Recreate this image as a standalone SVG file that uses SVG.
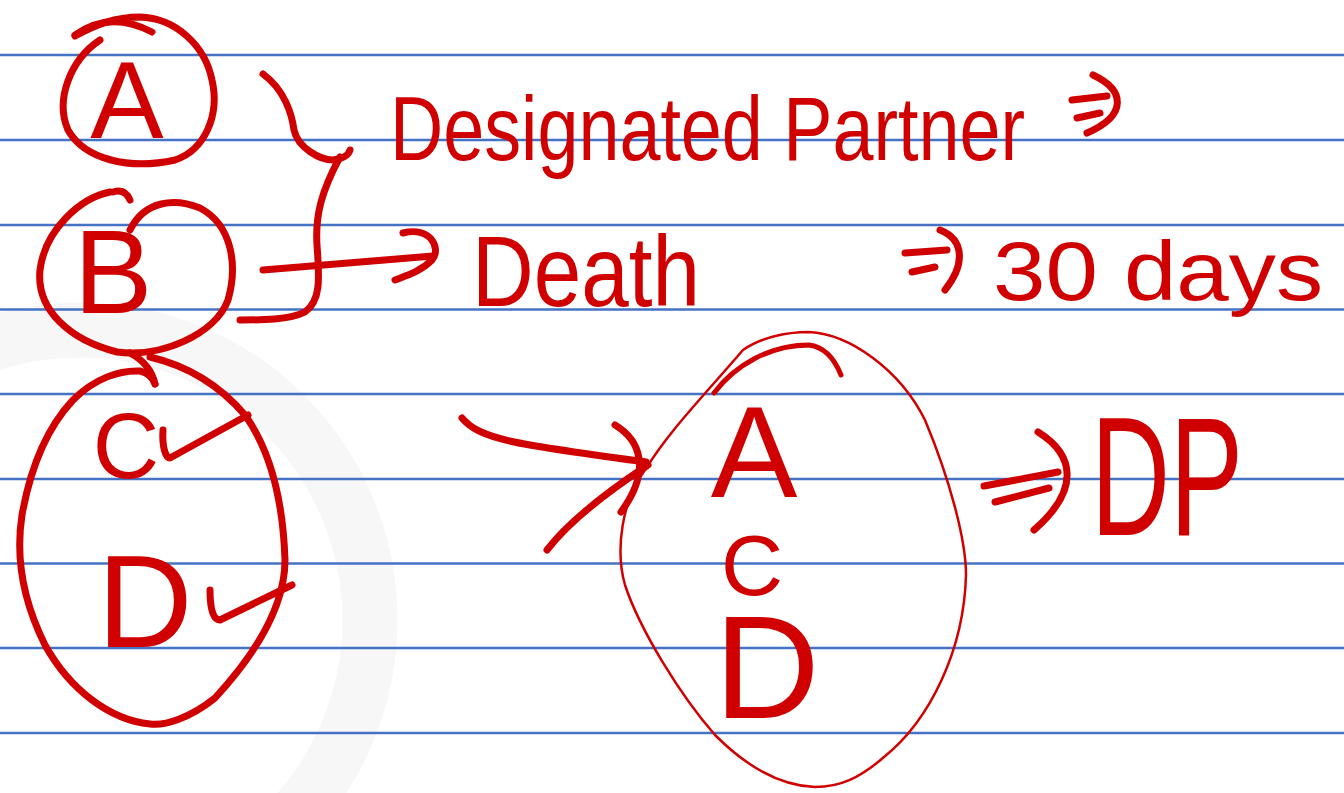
<svg xmlns="http://www.w3.org/2000/svg" width="1344" height="793" viewBox="0 0 1344 793">
<style>
.rule{stroke:#4472c4;stroke-width:2.5}
.ink{fill:none;stroke:#d10000;stroke-width:7;stroke-linecap:round;stroke-linejoin:round}
.thin{fill:none;stroke:#d10000;stroke-width:2.5;stroke-linecap:round}
.mid{fill:none;stroke:#d10000;stroke-width:5;stroke-linecap:round}
.t{fill:#d10000;font-family:"Liberation Sans",Arial,sans-serif}
</style>
<rect width="1344" height="793" fill="#ffffff"/>
<g id="watermark">
<circle cx="80" cy="620" r="290" fill="none" stroke="#f7f7f7" stroke-width="55"/>
</g>
<g id="rules">
<line class="rule" x1="0" y1="55" x2="1344" y2="55"/>
<line class="rule" x1="0" y1="140" x2="1344" y2="140"/>
<line class="rule" x1="0" y1="225" x2="1344" y2="225"/>
<line class="rule" x1="0" y1="309.5" x2="1344" y2="309.5"/>
<line class="rule" x1="0" y1="394" x2="1344" y2="394"/>
<line class="rule" x1="0" y1="479" x2="1344" y2="479"/>
<line class="rule" x1="0" y1="563.5" x2="1344" y2="563.5"/>
<line class="rule" x1="0" y1="648" x2="1344" y2="648"/>
<line class="rule" x1="0" y1="733" x2="1344" y2="733"/>
</g>
<g id="nodeA">
<path class="ink" d="M100,40 C70,60 55,100 68,130 C85,160 130,170 175,160 C205,150 220,115 212,80 C205,45 175,18 140,17 C115,17 95,25 75,36"/>
<path class="ink" d="M75,35 Q110,10 152,32"/>
<text class="t" x="127" y="138" font-size="110" text-anchor="middle">A</text>
</g>
<g id="nodeB">
<path class="ink" d="M110,192 C80,198 45,230 40,270 C36,310 70,340 117,352 C160,358 215,335 228,300 C238,265 232,225 200,208 C175,198 145,200 130,230"/>
<path class="ink" d="M113,192 Q125,188 130,200"/>
<text class="t" x="113" y="313" font-size="118" text-anchor="middle">B</text>
</g>
<g id="nodeCD">
<path class="ink" d="M150,357 C180,364 215,380 245,415 C270,450 283,500 285,560 C285,610 250,660 215,698 C190,718 165,726 150,724 C110,720 70,690 45,645 C25,605 15,560 22,515 C30,470 45,430 73,400 C95,378 120,370 140,371 Q152,374 155,384"/>
<path class="ink" d="M130,353 C143,360 152,370 155,384"/>
<text class="t" x="126" y="478" font-size="92" text-anchor="middle">C</text>
<path class="ink" d="M163,430 C162,445 165,458 170,458 L248,415"/>
<text class="t" x="145" y="647" font-size="132" text-anchor="middle">D</text>
<path class="ink" d="M210,590 C210,605 212,620 220,620 L292,585"/>
</g>
<g id="labelDP">
<text class="t" x="390" y="160" font-size="90" textLength="635" lengthAdjust="spacingAndGlyphs">Designated Partner</text>
</g>
<g id="labelDeath">
<text class="t" x="472" y="306" font-size="100" textLength="228" lengthAdjust="spacingAndGlyphs">Death</text>
</g>
<g id="label30">
<text class="t" x="993" y="300" font-size="84" textLength="330" lengthAdjust="spacingAndGlyphs">30 days</text>
</g>
<g id="groupACD">
<path class="thin" d="M809,332 C850,334 900,370 925,420 C950,480 966,540 966,575 C964,650 930,720 884,757 C860,778 840,787 815,787 C780,786 745,765 715,735 C680,695 640,630 625,585 C615,550 622,500 645,470 C670,430 700,400 743,350 C760,338 785,332 809,332 Z"/>
<path class="mid" d="M714,393 C735,365 770,345 809,345 C825,347 835,360 841,375"/>
<text class="t" x="754" y="497" font-size="130" text-anchor="middle">A</text>
<text class="t" x="752" y="595" font-size="86" text-anchor="middle">C</text>
<text class="t" x="767" y="718" font-size="146" text-anchor="middle">D</text>
</g>
<g id="labelDP2">
<text class="t" x="1091" y="535" font-size="168" textLength="152" lengthAdjust="spacingAndGlyphs">DP</text>
</g>
<g id="connectors">
<path class="ink" d="M263,74 C285,90 292,115 294,130 C298,148 320,160 333,160 Q348,158 350,150"/>
<path class="ink" d="M340,157 C322,190 315,215 317,245 C319,275 322,300 305,312 C290,320 260,320 240,320"/>
<path class="ink" d="M263,270 L433,256"/>
<path class="ink" d="M403,233 C430,226 442,248 432,260 C420,272 405,276 395,280"/>
<path class="ink" d="M1072,100 L1107,96 M1077,118 L1100,113"/>
<path class="ink" d="M1093,75 C1125,90 1128,115 1087,133"/>
<path class="ink" d="M905,253 L947,250 M912,272 L935,267"/>
<path class="ink" d="M940,230 C965,240 965,265 945,290"/>
<path class="ink" d="M462,418 C480,440 520,445 646,462"/>
<path class="ink" d="M615,425 C640,440 652,470 621,512"/>
<path class="ink" stroke-width="9" d="M547,550 C570,520 610,490 648,465"/>
<path class="ink" d="M984,486 L1058,472 M995,502 L1049,488"/>
<path class="ink" d="M1038,432 C1075,455 1080,490 1034,530"/>
</g>
</svg>
